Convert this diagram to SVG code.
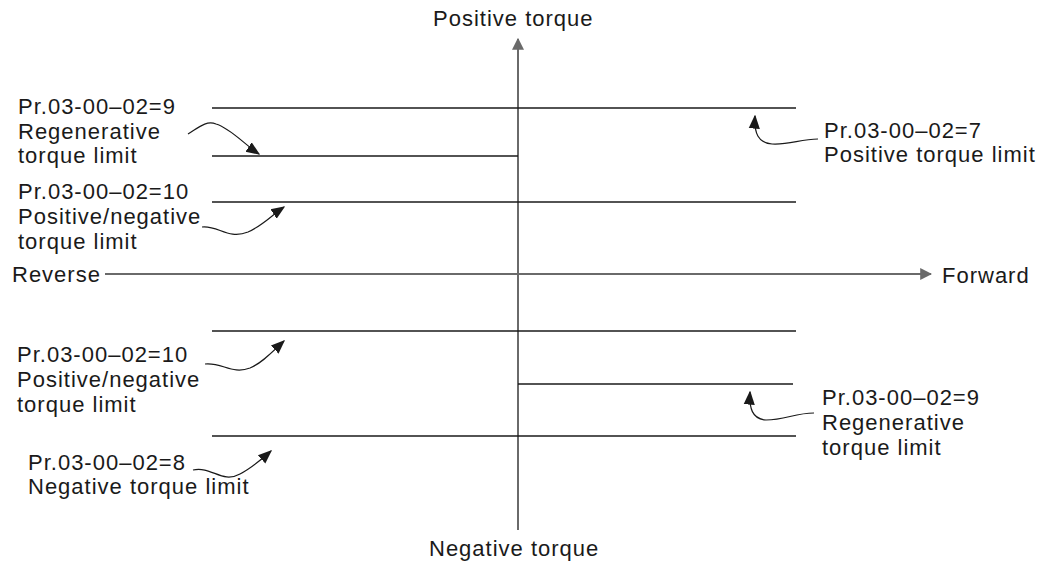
<svg xmlns="http://www.w3.org/2000/svg" width="1043" height="562" viewBox="0 0 1043 562">
<defs>
<style>
text{font-family:"Liberation Sans",Arial,sans-serif;font-size:22px;fill:#1a1a1a;letter-spacing:1px}
.axis{stroke:#6a6a6a;stroke-width:2;fill:none}
.lim{stroke:#1a1a1a;stroke-width:1.3;fill:none}
.cur{stroke:#1a1a1a;stroke-width:1.2;fill:none}
</style>
<marker id="ah" viewBox="0 0 10 10" refX="9" refY="5" markerWidth="12" markerHeight="12" markerUnits="userSpaceOnUse" orient="auto"><path d="M0,0 L10,5 L0,10 z" fill="#6a6a6a"/></marker>
<marker id="bh" viewBox="0 0 10 10" refX="9" refY="5" markerWidth="14" markerHeight="14" markerUnits="userSpaceOnUse" orient="auto"><path d="M0,1 L10,5 L0,9 z" fill="#1a1a1a"/></marker>
</defs>
<g id="connectors">
<line class="axis" x1="518" y1="530" x2="518" y2="39" marker-end="url(#ah)"/>
<line class="axis" x1="105" y1="274" x2="931" y2="274" marker-end="url(#ah)"/>
<line class="lim" x1="212" y1="108" x2="796" y2="108"/>
<line class="lim" x1="212" y1="156" x2="518" y2="156"/>
<line class="lim" x1="212" y1="202" x2="796" y2="202"/>
<line class="lim" x1="212" y1="331" x2="796" y2="331"/>
<line class="lim" x1="518" y1="384" x2="793" y2="384"/>
<line class="lim" x1="212" y1="436" x2="796" y2="436"/>
<path class="cur" d="M188,134 C198,128 206,120 216,124 C230,128 244,144 259,154" marker-end="url(#bh)"/>
<path class="cur" d="M202,227 C218,225 228,240 248,232 C262,226 272,215 284,207" marker-end="url(#bh)"/>
<path class="cur" d="M818,139 C800,139 790,145 772,144 C758,143 754,133 755,116" marker-end="url(#bh)"/>
<path class="cur" d="M205,364 C222,362 232,375 250,368 C262,363 272,352 284,341" marker-end="url(#bh)"/>
<path class="cur" d="M814,413 C795,413 785,420 766,420 C752,419 749,408 750,392" marker-end="url(#bh)"/>
<path class="cur" d="M193,470 C212,466 222,484 240,474 C252,468 262,459 271,451" marker-end="url(#bh)"/>
</g>
<g id="axis-labels">
<text x="433" y="26">Positive torque</text>
<text x="429" y="556">Negative torque</text>
<text x="12" y="282">Reverse</text>
<text x="942" y="283">Forward</text>
</g>
<g id="label-reg-left">
<text x="18" y="114">Pr.03-00–02=9</text>
<text x="18" y="139">Regenerative</text>
<text x="18" y="163">torque limit</text>
</g>
<g id="label-pn-top">
<text x="18" y="199">Pr.03-00–02=10</text>
<text x="18" y="224">Positive/negative</text>
<text x="18" y="249">torque limit</text>
</g>
<g id="label-pos">
<text x="824" y="138">Pr.03-00–02=7</text>
<text x="824" y="162">Positive torque limit</text>
</g>
<g id="label-pn-bottom">
<text x="17" y="362">Pr.03-00–02=10</text>
<text x="17" y="387">Positive/negative</text>
<text x="17" y="412">torque limit</text>
</g>
<g id="label-reg-right">
<text x="822" y="405">Pr.03-00–02=9</text>
<text x="822" y="430">Regenerative</text>
<text x="822" y="455">torque limit</text>
</g>
<g id="label-neg">
<text x="28" y="470">Pr.03-00–02=8</text>
<text x="28" y="494">Negative torque limit</text>
</g>
</svg>
